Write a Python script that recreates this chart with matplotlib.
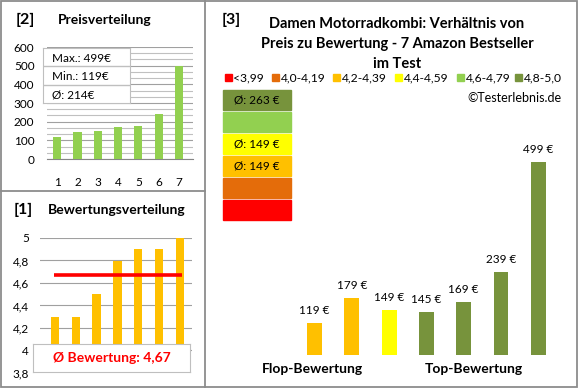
import numpy as np
import matplotlib
matplotlib.use("Agg")
import matplotlib.pyplot as plt
from matplotlib.patches import Rectangle

plt.rcParams['font.family'] = ['Lato', 'DejaVu Sans']

# data
preis_pos = [1, 2, 3, 4, 5, 6, 7]
preise_sortiert = [119, 145, 149, 169, 179, 239, 499]
bewertungen = [4.3, 4.3, 4.5, 4.8, 4.9, 4.9, 5.0]
avg_bewertung = 4.67

produkt_preise = [119, 179, 149, 145, 169, 239, 499]
produkt_farben = ['#FFC000', '#FFC000', '#FFFF00', '#77933C', '#77933C', '#77933C', '#77933C']

klassen = ['<3,99', '4,0-4,19', '4,2-4,39', '4,4-4,59', '4,6-4,79', '4,8-5,0']
klassen_farben = ['#FF0000', '#E46C0A', '#FFC000', '#FFFF00', '#92D050', '#77933C']
klassen_avg = ['', '', '149', '149', '', '263']

W, H = 580, 390
GRAY = '#8C8C8C'


def rect(x0, y0, x1, y1):
    return [x0 / W, 1 - y1 / H, (x1 - x0) / W, (y1 - y0) / H]


def fx(x):
    return x / W


def fy(y):
    return 1 - y / H


fig = plt.figure(figsize=(W / 100, H / 100), dpi=100)

# frame
bg = fig.add_axes([0, 0, 1, 1])
bg.set_xlim(0, W)
bg.set_ylim(H, 0)
bg.axis('off')
bg.add_patch(Rectangle((1, 1), 576, 386, fill=False, ec=GRAY, lw=1.3))
bg.plot([205, 205], [1, 387], color=GRAY, lw=1.3)
bg.plot([1, 205], [191, 191], color=GRAY, lw=1.3)

# ---- [2] Preisverteilung ----
ax2 = fig.add_axes(rect(47, 47, 193, 159))
ax2.bar(preis_pos, preise_sortiert, width=0.4, color='#92D050', zorder=3)
ax2.set_xlim(0.5, 0.5 + 146 / 20.3)
ax2.set_ylim(0, 600)
ax2.set_yticks(range(0, 601, 100))
ax2.set_yticks(np.arange(0, 600, 100 / 3), minor=True)
ax2.grid(axis='y', which='major', color='#A0A0A0', lw=0.8)
ax2.grid(axis='y', which='minor', color='#C0C0C0', lw=0.8)
ax2.set_xticks(preis_pos)
ax2.tick_params(axis='both', which='both', length=0, labelsize=8.5)
ax2.tick_params(axis='x', pad=13)
ax2.tick_params(axis='y', pad=9)
for s in ['top', 'right', 'left']:
    ax2.spines[s].set_visible(False)
ax2.spines['bottom'].set_color('#868686')

fig.text(fx(16), fy(20), '[2]', fontsize=11.5, fontweight='bold', va='center')
fig.text(fx(58), fy(20), 'Preisverteilung', fontsize=10, fontweight='bold', va='center')

box = fig.add_axes(rect(43, 48, 130, 103))
box.set_xlim(0, 1)
box.set_ylim(3, 0)
box.set_xticks([])
box.set_yticks([])
for s in box.spines.values():
    s.set_color('#BFBFBF')
box.axhline(1, color='#BFBFBF', lw=1)
box.axhline(2, color='#BFBFBF', lw=1)
infos = ['Max.: %d€' % max(preise_sortiert), 'Min.: %d€' % min(preise_sortiert),
         'Ø: %d€' % round(np.mean(preise_sortiert))]
for i, t in enumerate(infos):
    box.text(0.1, i + 0.55, t, fontsize=8.5, va='center')

# ---- [1] Bewertungsverteilung ----
ax1 = fig.add_axes(rect(40, 238, 192, 373))
ax1.bar(preis_pos, bewertungen, width=0.4, color='#FFC000', zorder=3)
ax1.set_xlim(1 - 15 / 20.8, 1 - 15 / 20.8 + 152 / 20.8)
ax1.set_ylim(3.8, 5.0)
ax1.set_yticks(np.arange(3.8, 5.01, 0.2))
ax1.set_yticklabels([('%.1f' % v).replace('.', ',').replace(',0', '') for v in np.arange(3.8, 5.01, 0.2)])
ax1.grid(axis='y', color='#A0A0A0', lw=0.8)
ax1.set_xticks([])
ax1.tick_params(axis='y', length=0, labelsize=8.5, pad=8)
for s in ax1.spines.values():
    s.set_visible(False)
ax1.hlines(avg_bewertung, preis_pos[0] - 0.05, preis_pos[-1] + 0.1, color='#FF0000', lw=2.6, zorder=4)

fig.text(fx(14), fy(210), '[1]', fontsize=11.5, fontweight='bold', va='center')
fig.text(fx(48), fy(210), 'Bewertungsverteilung', fontsize=10, fontweight='bold', va='center')

box1 = fig.add_axes(rect(33, 344, 190, 372))
box1.set_xticks([])
box1.set_yticks([])
for s in box1.spines.values():
    s.set_color('#BFBFBF')
box1.text(0.5, 0.5, 'Ø Bewertung: ' + ('%.2f' % avg_bewertung).replace('.', ','),
          color='#FF0000', fontsize=10, fontweight='bold', ha='center', va='center')

# ---- [3] Preis zu Bewertung ----
fig.text(fx(222), fy(20), '[3]', fontsize=11.5, fontweight='bold', va='center')
fig.text(fx(397), fy(44), 'Damen Motorradkombi: Verhältnis von\nPreis zu Bewertung - 7 Amazon Bestseller\nim Test',
         fontsize=10.5, fontweight='bold', ha='center', va='center', linespacing=1.5)

leg_x = [225, 272, 333, 395, 457, 515]
for x, lab, c in zip(leg_x, klassen, klassen_farben):
    bg.add_patch(Rectangle((x, 74), 6.5, 6.5, color=c))
    bg.text(x + 8.5, 77.5, lab, fontsize=8.7, va='center')

fig.text(fx(562), fy(98), '©Testerlebnis.de', fontsize=9, ha='right', va='center')

for i, (c, a) in enumerate(zip(klassen_farben[::-1], klassen_avg[::-1])):
    y0 = 90 + 22 * i
    bg.add_patch(Rectangle((223, y0), 68, 20, color=c))
    if a:
        bg.text(257, y0 + 10.5, 'Ø: %s €' % a, fontsize=8.5, ha='center', va='center')

ax3 = fig.add_axes(rect(220, 140, 565, 355))
ax3.bar(preis_pos, produkt_preise, width=0.4, color=produkt_farben)
ax3.set_xlim(1 - 94.5 / 37.3, 1 - 94.5 / 37.3 + 345 / 37.3)
ax3.set_ylim(43.5, 43.5 + 215 / 0.4237)
ax3.axis('off')
for x, v in zip(preis_pos, produkt_preise):
    ax3.annotate('%d €' % v, (x, v), xytext=(0, 5), textcoords='offset points',
                 ha='center', va='bottom', fontsize=8.5)

fig.text(fx(312), fy(369), 'Flop-Bewertung', fontsize=10, fontweight='bold', ha='center', va='center')
fig.text(fx(474), fy(369), 'Top-Bewertung', fontsize=10, fontweight='bold', ha='center', va='center')

fig.savefig('out.png', dpi=100)
